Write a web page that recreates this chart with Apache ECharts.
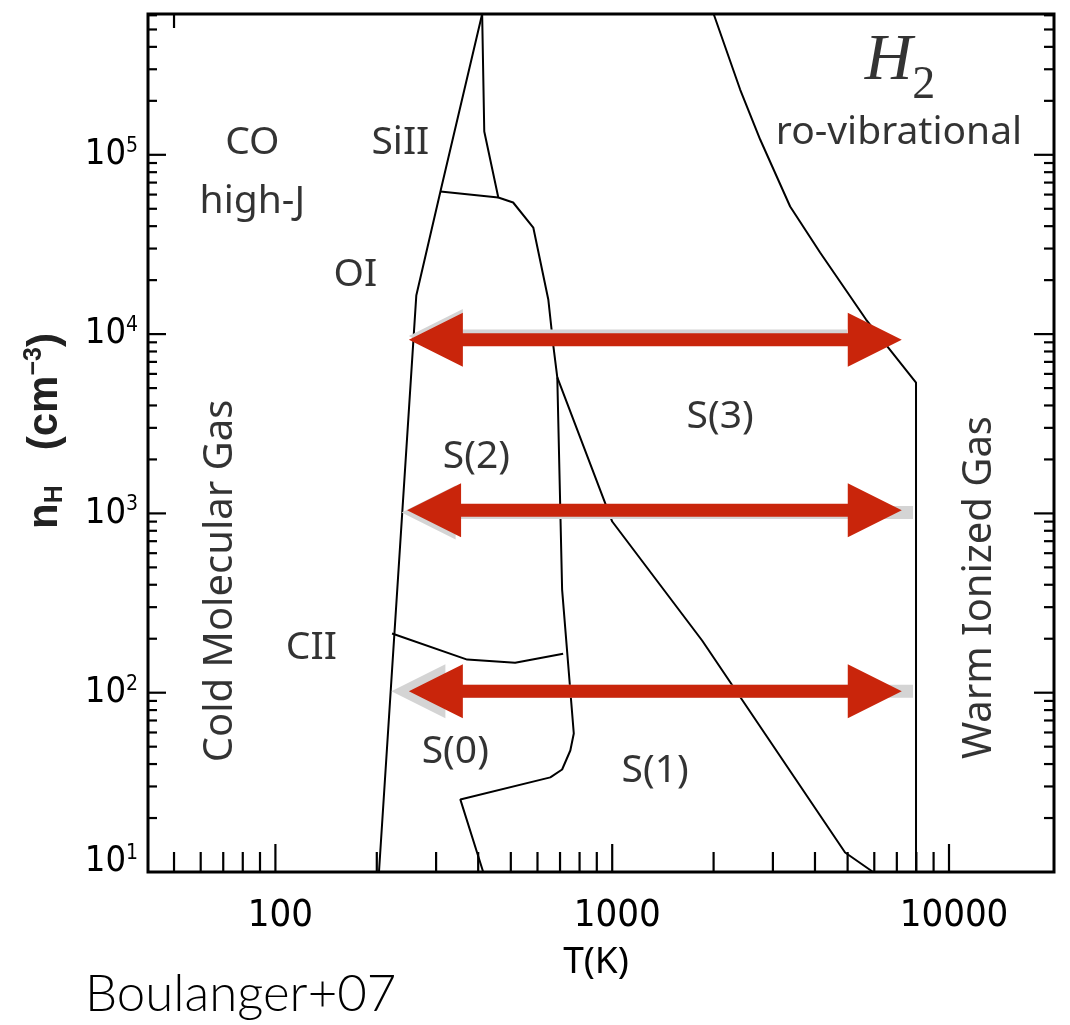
<!DOCTYPE html>
<html><head><meta charset="utf-8">
<script src="https://cdn.jsdelivr.net/npm/echarts@6/dist/echarts.min.js"></script>
<style>html,body{margin:0;padding:0;background:#fff}#c{width:1070px;height:1025px}</style>
</head><body><div id="c"></div>
<script>
// ---------- axis ranges and ticks ----------
const T_RANGE = [41.85, 20500];
const N_RANGE = [10, 6.1e5];
const xTickLabels = [100, 1000, 10000];
const yTickLabels = [10, 100, 1000, 10000, 100000];
const xMinorTicks = [50,60,70,80,90,200,300,400,500,600,700,800,900,2000,3000,4000,5000,6000,7000,8000,9000];
const xTopTicks = [50];
const yMinorTicks = [20,30,40,50,60,70,80,90,200,300,400,500,600,700,800,900,2000,3000,4000,5000,6000,7000,8000,9000,20000,30000,40000,50000,60000,70000,80000,90000,200000,300000,400000,500000,600000];

// ---------- boundary curves [T (K), n_H (cm^-3)] ----------
const leftBoundary = [[203,10],[262,16400],[309,62400],[411,6.1e5]];
const siiBoundary = [[411,6.1e5],[417,134900],[459,57800],[508,54200],[583,39300],[646,15600],[668,8750],[687,5730],[710,376],[769,59.2],[751,47.6],[710,37.3],[655,33.7],[354,25.4],[414,10]];
const oiBoundary = [[309,62400],[459,57800]];
const s1s3Boundary = [[687,5730],[1000,901],[1849,195.5],[4914,12.85],[5951,10]];
const h2Boundary = [[2001,6.1e5],[2398,231300],[2750,121700],[3375,51500],[4142,28520],[5672,12060],[7981,5370],[7981,10]];
const ciiBoundary = [[222,214],[371,153],[515,147],[715,165]];

// ---------- arrows ----------
const arrowN = [9300, 1040, 102];
const arrowLeftT = [249, 246, 249];
const arrowRightT = [7240, 7240, 7240];
const shadowN = [9760, 1013, 102];
const shadowLeftT = [249, 237, 221];
const shadowRightT = [4980, 7818, 7818];

// ---------- annotations ----------
const regionLabels = [
  {name:'CO', value:[85.4,117100]},
  {name:'high-J', value:[85.4,54900]},
  {name:'SiII', value:[235,117100]},
  {name:'OI', value:[172.8,21500]},
  {name:'CII', value:[127.9,178.7]},
  {name:'S(2)', value:[395,2077]},
  {name:'S(0)', value:[342,47]},
  {name:'S(1)', value:[1341,36.8]},
  {name:'S(3)', value:[2092,3471]},
  {name:'ro-vibrational', value:[7104,133100]}
];
const gasLabels = [
  {name:'Cold Molecular Gas', value:[68.7,420]},
  {name:'Warm Ionized Gas', value:[12360,386]}
];
const h2Label = [{name:'H2', value:[7153,329400]}];

const chart = echarts.init(document.getElementById('c'), null, {renderer:'canvas'});
const TICKFONT = "'Liberation Sans Narrow','DejaVu Sans Condensed','Liberation Sans',sans-serif";
const ANNFONT = "'Noto Sans','Lato',sans-serif";

function lineSeries(name, data) {
  return {name, type:'line', data, showSymbol:false, symbol:'none', clip:false, z:3,
    lineStyle:{color:'#000', width:2}, silent:true, animation:false};
}
function tickSeries(values, side, len) {
  const data = values.map(v => side==='bottom' ? [v,N_RANGE[0]] : side==='top' ? [v,N_RANGE[1]] : side==='left' ? [T_RANGE[0],v] : [T_RANGE[1],v]);
  return {type:'custom', silent:true, clip:false, z:6, animation:false, data,
    renderItem:(params, api) => {
      const p = api.coord([api.value(0), api.value(1)]);
      let x2 = p[0], y2 = p[1];
      if (side==='bottom') y2 -= len; else if (side==='top') y2 += len;
      else if (side==='left') x2 += len; else x2 -= len;
      return {type:'line', shape:{x1:p[0], y1:p[1], x2, y2}, style:{stroke:'#000', lineWidth:2.2}};
    }};
}
function arrowSeries(leftT, rightT, ns, color, twoHeads, z) {
  return {type:'custom', silent:true, clip:false, z, animation:false,
    dimensions:['t1','t2','n'], encode:{x:[0,1], y:2},
    data: leftT.map((t,i)=>[t, rightT[i], ns[i]]),
    renderItem:(params, api) => {
      const a = api.coord([api.value(0), api.value(2)]);
      const b = api.coord([api.value(1), api.value(2)]);
      const y = a[1], x1 = a[0], x2 = b[0];
      const H = 54, HH = 27, S = 6.5;
      const pts = twoHeads
        ? [[x1,y],[x1+H,y-HH],[x1+H,y-S],[x2-H,y-S],[x2-H,y-HH],[x2,y],[x2-H,y+HH],[x2-H,y+S],[x1+H,y+S],[x1+H,y+HH]]
        : [[x1,y],[x1+H,y-HH],[x1+H,y-S],[x2,y-S],[x2,y+S],[x1+H,y+S],[x1+H,y+HH]];
      return {type:'polygon', shape:{points:pts}, style:{fill:color}};
    }};
}

const option = {
  animation:false,
  backgroundColor:'#fff',
  grid:{left:148, right:16, top:14, bottom:153, show:true, borderColor:'#000', borderWidth:3, backgroundColor:'transparent', outerBoundsMode:'none', containLabel:false},
  xAxis:{type:'log', logBase:10, min:T_RANGE[0], max:T_RANGE[1],
    axisLine:{show:false}, axisTick:{show:false}, splitLine:{show:false}, minorTick:{show:false},
    axisLabel:{customValues:xTickLabels, margin:25, formatter:v=>String(Math.round(v)),
      fontFamily:TICKFONT, fontSize:38, color:'#000', padding:[0,0,0,10]},
    name:'T(K)', nameLocation:'middle', nameGap:72,
    nameTextStyle:{fontFamily:ANNFONT, fontSize:37, color:'#000', padding:[0,10,0,0]}},
  yAxis:{type:'log', logBase:10, min:N_RANGE[0], max:N_RANGE[1],
    axisLine:{show:false}, axisTick:{show:false}, splitLine:{show:false}, minorTick:{show:false},
    axisLabel:{customValues:yTickLabels, margin:10,
      formatter:v=>{const e=Math.round(Math.log10(v)); return e===1 ? '{b|10}{s|'+e+'}\n{g| }' : '{b|10}{s|'+e+'}';},
      rich:{
        b:{fontFamily:TICKFONT, fontSize:36, lineHeight:38, color:'#000'},
        s:{fontFamily:TICKFONT, fontSize:21, lineHeight:24, verticalAlign:'top', color:'#000'},
        g:{fontSize:2, lineHeight:20}
      }},
    name:'{n|n}{sub|H}{n|   (cm}{sup|−3}{n|)}', nameLocation:'middle', nameRotate:90, nameGap:80,
    nameTextStyle:{padding:[0,0,0,24], rich:{
      n:{fontFamily:"'Liberation Sans',sans-serif", fontWeight:'bold', fontSize:42, lineHeight:46, color:'#222'},
      sub:{fontFamily:"'Liberation Sans',sans-serif", fontWeight:'bold', fontSize:25, lineHeight:46, verticalAlign:'bottom', color:'#222'},
      sup:{fontFamily:"'Liberation Sans',sans-serif", fontWeight:'bold', fontSize:25, lineHeight:30, verticalAlign:'top', color:'#222'}
    }}},
  graphic:[{type:'text', left:85, top:969, style:{text:'Boulanger+07', fontFamily:"'Lato','Open Sans',sans-serif", fontWeight:300, fontSize:51, fill:'#000'}}],
  series:[
    lineSeries('left', leftBoundary),
    lineSeries('SiII', siiBoundary),
    lineSeries('OI', oiBoundary),
    lineSeries('S1S3', s1s3Boundary),
    lineSeries('H2', h2Boundary),
    lineSeries('CII', ciiBoundary),
    arrowSeries(shadowLeftT, shadowRightT, shadowN, '#d4d4d4', false, 4),
    arrowSeries(arrowLeftT, arrowRightT, arrowN, '#c9250b', true, 5),
    tickSeries(xTickLabels, 'bottom', 28),
    tickSeries(xMinorTicks, 'bottom', 20),
    tickSeries(xTopTicks, 'top', 14),
    tickSeries(yTickLabels.slice(1), 'left', 18),
    tickSeries(yMinorTicks, 'left', 9),
    tickSeries(yTickLabels.slice(1), 'right', 20),
    tickSeries(yMinorTicks, 'right', 10),
    {type:'scatter', data:regionLabels, symbolSize:1, itemStyle:{color:'rgba(0,0,0,0)'}, silent:true, z:7,
      label:{show:true, position:'inside', formatter:'{b}', fontFamily:ANNFONT, fontSize:39, color:'#000'}},
    {type:'scatter', data:gasLabels, symbolSize:1, itemStyle:{color:'rgba(0,0,0,0)'}, silent:true, z:7,
      label:{show:true, position:'inside', rotate:90, formatter:'{b}', fontFamily:ANNFONT, fontSize:40, color:'#000'}},
    {type:'scatter', data:h2Label, symbolSize:1, itemStyle:{color:'rgba(0,0,0,0)'}, silent:true, z:7,
      label:{show:true, position:'inside', formatter:'{h|H}{s|2}', rich:{
        h:{fontFamily:"'Liberation Serif',serif", fontStyle:'italic', fontSize:66, lineHeight:66, verticalAlign:'top', color:'#000'},
        s:{fontFamily:"'Liberation Serif',serif", fontSize:46, lineHeight:50, padding:[34,0,0,0], verticalAlign:'top', color:'#000'}
      }}}
  ]
};
chart.setOption(option);
</script></body></html>
